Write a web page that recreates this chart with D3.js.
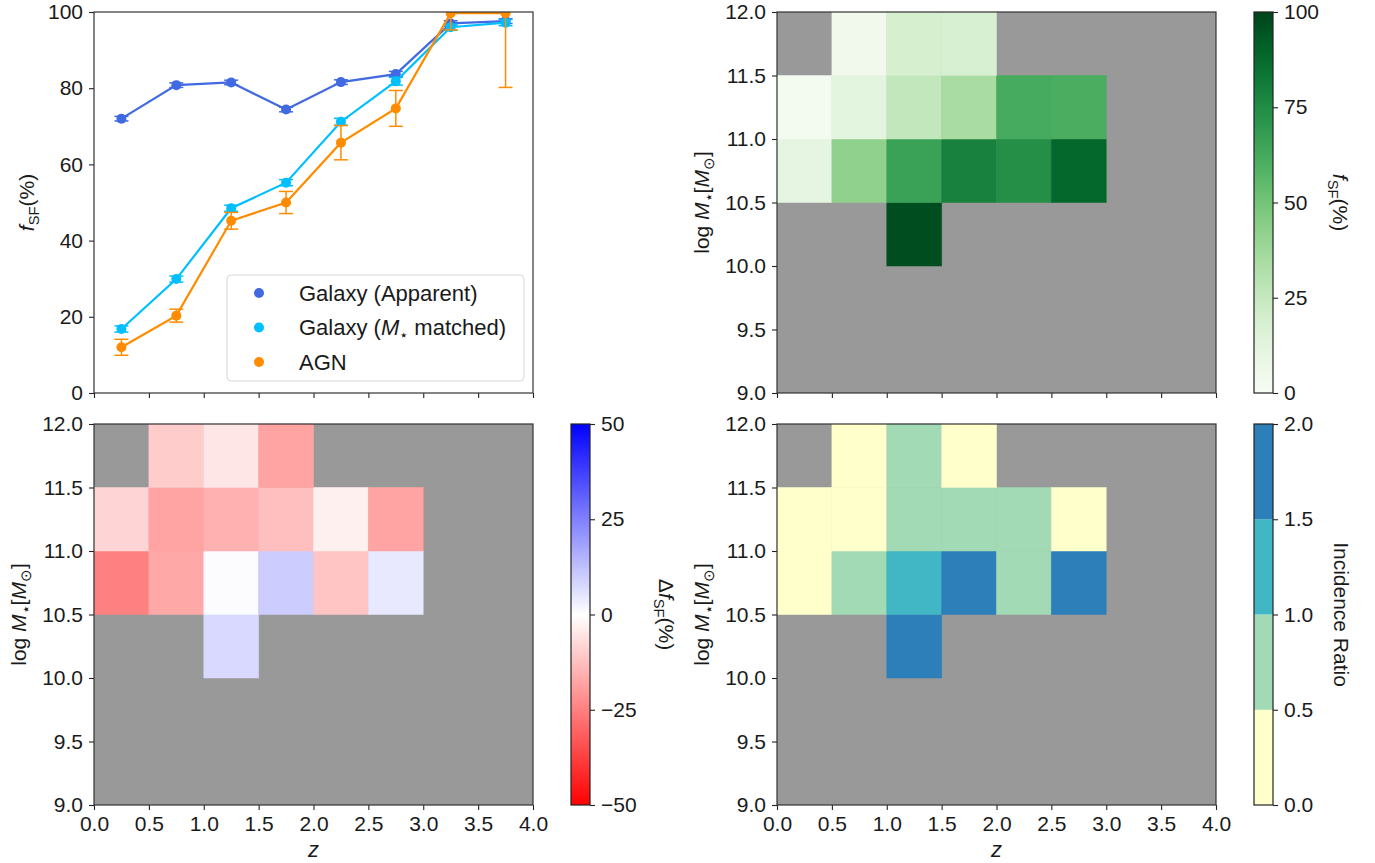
<!DOCTYPE html>
<meta charset="utf-8">
<html>
<style>
  body { margin: 0; background: #fff; }
  svg text { font-family: "Liberation Sans", Arial, sans-serif; fill: #1a1a1a; }
</style>
<script src="https://cdn.jsdelivr.net/npm/d3@7"></script>
<body>
  <svg id="fig" width="1375" height="863"></svg>
</body>
<script>
  // ---- data ----
  var zMid = [0.25, 0.75, 1.25, 1.75, 2.25, 2.75, 3.25, 3.75];
  var fsfApparent = [72.0, 80.8, 81.5, 74.4, 81.6, 83.7, 97.0, 97.6];
  var errApparent = [0.6, 0.6, 0.6, 0.6, 0.6, 0.7, 0.7, 0.6];
  var fsfMatched = [16.8, 29.9, 48.5, 55.2, 71.2, 81.8, 96.0, 97.2];
  var errMatched = [0.8, 0.8, 0.8, 0.8, 0.9, 1.0, 0.8, 0.8];
  var fsfAgn = [12.0, 20.3, 45.2, 50.0, 65.7, 74.7, 99.7, 99.7];
  var errAgn = [2.1, 1.7, 2.2, 2.9, 4.5, 4.7, 4.4, 19.5];

  var zEdges = [0.0, 0.5, 1.0, 1.5, 2.0, 2.5, 3.0, 3.5, 4.0];
  var massEdges = [9.0, 9.5, 10.0, 10.5, 11.0, 11.5, 12.0];
  var fTicks = [0, 20, 40, 60, 80, 100];

  // rows: mass bins from 9.0 upward, cols: z bins; null = no data
  var fsfGrid = [
    [null, null, null, null, null, null, null, null],
    [null, null, null, null, null, null, null, null],
    [null, null, 97, null, null, null, null, null],
    [11, 42, 66, 79, 74, 89, null, null],
    [3, 12, 26, 35, 62, 61, null, null],
    [null, 5, 19, 18, null, null, null, null]
  ];
  var deltaGrid = [
    [null, null, null, null, null, null, null, null],
    [null, null, null, null, null, null, null, null],
    [null, null, 7.5, null, null, null, null, null],
    [-25, -17, 0.5, 10, -11.5, 4.5, null, null],
    [-8.5, -18, -15.5, -12.5, -3, -18, null, null],
    [null, -10, -5, -18, null, null, null, null]
  ];
  var ratioGrid = [
    [null, null, null, null, null, null, null, null],
    [null, null, null, null, null, null, null, null],
    [null, null, 1.7, null, null, null, null, null],
    [0.2, 0.7, 1.2, 1.8, 0.8, 1.9, null, null],
    [0.3, 0.4, 0.7, 0.8, 0.9, 0.2, null, null],
    [null, 0.3, 0.8, 0.3, null, null, null, null]
  ];

  var W = 439, H = 381;
  var FS = 21;
  var FONT = "Liberation Sans, Arial, sans-serif";
  var svg = d3.select("#fig");
  var defs = svg.append("defs");

  var x = d3.scaleLinear().domain([0, 4]).range([0, W]);
  var yF = d3.scaleLinear().domain([0, 100]).range([H, 0]);
  var yM = d3.scaleLinear().domain([9, 12]).range([H, 0]);

  function minus(d) { return d < 0 ? "\u2212" + Math.abs(d) : String(d); }

  function styleAxis(g) {
    g.attr("font-family", FONT).attr("font-size", FS);
    g.selectAll("text").attr("fill", "#1a1a1a");
    g.selectAll("line").attr("stroke", "#222").attr("stroke-width", 1.1);
  }

  function axes(g, yScale, yTicks, yFmt, xLabels) {
    g.append("g").attr("transform", "translate(0," + H + ")")
      .call(d3.axisBottom(x).tickValues(zEdges).tickSize(5).tickPadding(6)
        .tickFormat(xLabels ? d3.format(".1f") : function() { return ""; }))
      .call(function(s) { s.select(".domain").remove(); })
      .call(styleAxis);
    g.append("g")
      .call(d3.axisLeft(yScale).tickValues(yTicks).tickSize(5).tickPadding(6).tickFormat(yFmt))
      .call(function(s) { s.select(".domain").remove(); })
      .call(styleAxis);
    g.append("rect").attr("width", W).attr("height", H)
      .attr("fill", "none").attr("stroke", "#333").attr("stroke-width", 1.2);
  }

  // text with italic / subscript pieces
  function rich(t, parts, size) {
    parts.forEach(function(p) {
      var ts = t.append("tspan").text(p[0]);
      if (p[1] && p[1].indexOf("i") >= 0) ts.attr("font-style", "italic");
      if (p[1] && p[1].indexOf("s") >= 0) ts.attr("font-size", size * 0.7).attr("dy", size * 0.22);
      if (p[1] && p[1].indexOf("u") >= 0) ts.attr("dy", -size * 0.22);
    });
    return t;
  }

  var fsfParts = [["f", "i"], ["SF", "s"], ["(%)", "u"]];
  var massParts = [["log ", ""], ["M", "i"], ["\u22c6", "s"], ["[", "u"], ["M", "i"], ["\u2299", "s"], ["]", "u"]];

  function rotLabel(cx, cy, angle, parts) {
    var t = svg.append("text")
      .attr("transform", "translate(" + cx + "," + cy + ") rotate(" + angle + ")")
      .attr("text-anchor", "middle").attr("dy", "0.35em").attr("font-size", FS);
    rich(t, parts, FS);
  }

  function zLabel(px) {
    svg.append("text").attr("x", px + W / 2).attr("y", 857)
      .attr("text-anchor", "middle").attr("font-size", 22).attr("font-style", "italic").text("z");
  }

  // ---- top left: fSF vs z ----
  var tl = svg.append("g").attr("transform", "translate(94,12)");
  defs.append("clipPath").attr("id", "clipTL").append("rect").attr("width", W).attr("height", H);
  var plot = tl.append("g").attr("clip-path", "url(#clipTL)");

  function series(vals, errs, color) {
    var pts = zMid.map(function(z, i) { return { z: z, v: vals[i], e: errs[i] }; });
    plot.append("path").datum(pts)
      .attr("d", d3.line().x(function(d) { return x(d.z); }).y(function(d) { return yF(d.v); }))
      .attr("fill", "none").attr("stroke", color).attr("stroke-width", 2.2);
    var eb = plot.selectAll(null).data(pts).enter().append("g").attr("stroke", color).attr("stroke-width", 1.5);
    eb.append("line")
      .attr("x1", function(d) { return x(d.z); }).attr("x2", function(d) { return x(d.z); })
      .attr("y1", function(d) { return yF(d.v - d.e); }).attr("y2", function(d) { return yF(d.v + d.e); });
    [-1, 1].forEach(function(s) {
      eb.append("line")
        .attr("x1", function(d) { return x(d.z) - 7; }).attr("x2", function(d) { return x(d.z) + 7; })
        .attr("y1", function(d) { return yF(d.v + s * d.e); }).attr("y2", function(d) { return yF(d.v + s * d.e); });
    });
    plot.selectAll(null).data(pts).enter().append("circle")
      .attr("cx", function(d) { return x(d.z); }).attr("cy", function(d) { return yF(d.v); })
      .attr("r", 5).attr("fill", color);
  }

  series(fsfApparent, errApparent, "#4169e1");
  series(fsfMatched, errMatched, "#00bfff");
  series(fsfAgn, errAgn, "#ff8c00");
  axes(tl, yF, fTicks, d3.format("d"), false);

  var legend = tl.append("g").attr("transform", "translate(133,263)");
  legend.append("rect").attr("width", 297).attr("height", 106).attr("rx", 4)
    .attr("fill", "#fff").attr("fill-opacity", 0.8).attr("stroke", "#d6d6d6");
  var legItems = [
    { c: "#4169e1", parts: [["Galaxy (Apparent)", ""]] },
    { c: "#00bfff", parts: [["Galaxy (", ""], ["M", "i"], ["\u22c6", "s"], [" matched)", "u"]] },
    { c: "#ff8c00", parts: [["AGN", ""]] }
  ];
  legItems.forEach(function(it, i) {
    var yy = 18 + i * 34.5;
    legend.append("circle").attr("cx", 32).attr("cy", yy).attr("r", 5).attr("fill", it.c);
    rich(legend.append("text").attr("x", 72).attr("y", yy).attr("dy", "0.35em").attr("font-size", 22), it.parts, 22);
  });
  rotLabel(27, 12 + H / 2, -90, fsfParts);

  // ---- heatmaps ----
  function heatmap(px, py, grid, color, xLabels) {
    var g = svg.append("g").attr("transform", "translate(" + px + "," + py + ")");
    g.append("rect").attr("width", W).attr("height", H).attr("fill", "#999999");
    var cells = [];
    grid.forEach(function(row, i) {
      row.forEach(function(v, j) { if (v !== null) cells.push({ i: i, j: j, v: v }); });
    });
    g.selectAll(null).data(cells).enter().append("rect")
      .attr("x", function(d) { return x(zEdges[d.j]); })
      .attr("y", function(d) { return yM(massEdges[d.i + 1]); })
      .attr("width", function(d) { return x(zEdges[d.j + 1]) - x(zEdges[d.j]); })
      .attr("height", function(d) { return yM(massEdges[d.i]) - yM(massEdges[d.i + 1]); })
      .attr("fill", function(d) { return color(d.v); })
      .attr("stroke", function(d) { return color(d.v); })
      .attr("stroke-opacity", 0.5).attr("stroke-width", 1);
    axes(g, yM, massEdges, d3.format(".1f"), xLabels);
    rotLabel(px - 75, py + H / 2, -90, massParts);
    if (xLabels) zLabel(px);
  }

  function colorbar(px, py, id, color, domain, ticks, fmt, discrete) {
    var w = 19;
    var g = svg.append("g").attr("transform", "translate(" + px + "," + py + ")");
    var s = d3.scaleLinear().domain(domain).range([H, 0]);
    if (discrete) {
      g.selectAll(null).data(d3.pairs(ticks)).enter().append("rect")
        .attr("y", function(d) { return s(d[1]); }).attr("width", w)
        .attr("height", function(d) { return s(d[0]) - s(d[1]); })
        .attr("fill", function(d) { return color((d[0] + d[1]) / 2); });
    } else {
      var grad = defs.append("linearGradient").attr("id", id)
        .attr("x1", 0).attr("y1", 1).attr("x2", 0).attr("y2", 0);
      d3.range(0, 1.0001, 0.05).forEach(function(t) {
        grad.append("stop").attr("offset", t)
          .attr("stop-color", color(domain[0] + t * (domain[1] - domain[0])));
      });
      g.append("rect").attr("width", w).attr("height", H).attr("fill", "url(#" + id + ")");
    }
    g.append("rect").attr("width", w).attr("height", H).attr("fill", "none")
      .attr("stroke", "#222").attr("stroke-width", 1.2);
    g.append("g").attr("transform", "translate(" + w + ",0)")
      .call(d3.axisRight(s).tickValues(ticks).tickSize(5).tickPadding(6).tickFormat(fmt))
      .call(function(a) { a.select(".domain").remove(); })
      .call(styleAxis);
  }

  var greens = d3.scaleSequential(d3.interpolateGreens).domain([0, 100]);
  var bwr = d3.scaleLinear().domain([-50, 0, 50]).range(["#ff0000", "#ffffff", "#0000ff"]);
  var ylgnbu = d3.scaleThreshold().domain([0.5, 1.0, 1.5]).range(["#ffffcc", "#a1dab4", "#41b6c4", "#2c7fb8"]);

  heatmap(777, 12, fsfGrid, greens, false);
  colorbar(1254, 12, "gGreens", greens, [0, 100], [0, 25, 50, 75, 100], d3.format("d"), false);
  rotLabel(1340, 12 + H / 2, 90, fsfParts);

  heatmap(94, 424, deltaGrid, bwr, true);
  colorbar(571, 424, "gBwr", bwr, [-50, 50], [-50, -25, 0, 25, 50], minus, false);
  rotLabel(666, 424 + H / 2, 90, [["\u0394", ""]].concat(fsfParts));

  heatmap(777, 424, ratioGrid, ylgnbu, true);
  colorbar(1254, 424, "gRatio", ylgnbu, [0, 2], [0, 0.5, 1.0, 1.5, 2.0], d3.format(".1f"), true);
  svg.append("text").attr("transform", "translate(1341," + (424 + H / 2) + ") rotate(90)")
    .attr("text-anchor", "middle").attr("dy", "0.35em").attr("font-size", FS).text("Incidence Ratio");
</script>

</html>
